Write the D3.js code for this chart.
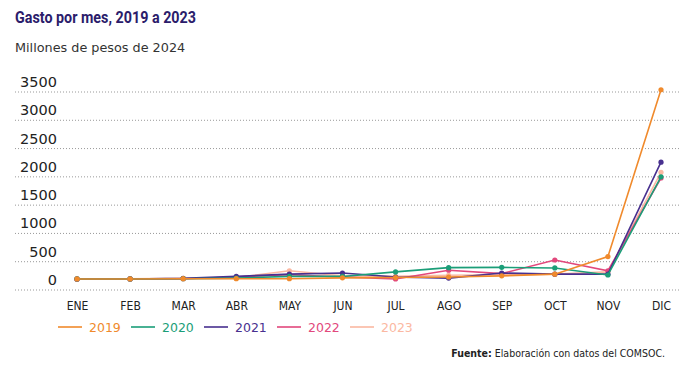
<!DOCTYPE html>
<html>
<head>
<meta charset="utf-8">
<script src="https://cdn.jsdelivr.net/npm/d3@7"></script>
<style>
  body { margin: 0; background: #fff; }
  svg { display: block; }
</style>
</head>
<body>
<div id="chart"></div>
<script>
// Data
var months = ["ENE", "FEB", "MAR", "ABR", "MAY", "JUN", "JUL", "AGO", "SEP", "OCT", "NOV", "DIC"];
var years = ["2019", "2020", "2021", "2022", "2023"];
var gasto2019 = [195, 195, 200, 200, 200, 215, 220, 230, 250, 280, 590, 3540];
var gasto2020 = [195, 195, 200, 210, 240, 240, 320, 395, 400, 390, 265, 2000];
var gasto2021 = [195, 195, 205, 240, 280, 300, 230, 210, 300, 280, 280, 2260];
var gasto2022 = [190, 195, 200, 230, 270, 230, 195, 350, 290, 530, 340, 1980];
var gasto2023 = [195, 200, 205, 220, 340, 250, 240, 260, 270, 280, 320, 2080];
var yTicks = [0, 500, 1000, 1500, 2000, 2500, 3000, 3500];

var colors = {
    "2019": "#f08a2c",
    "2020": "#1b9e78",
    "2021": "#48308f",
    "2022": "#e2487c",
    "2023": "#fbb8a2"
};

var series = [
    { year: "2019", values: gasto2019 },
    { year: "2020", values: gasto2020 },
    { year: "2021", values: gasto2021 },
    { year: "2022", values: gasto2022 },
    { year: "2023", values: gasto2023 }
];

var width = 700, height = 378;

var svg = d3.select("#chart")
    .append("svg")
    .attr("width", width)
    .attr("height", height);

// Title and subtitle
svg.append("text")
    .attr("x", 15).attr("y", 23)
    .attr("textLength", 181)
    .attr("lengthAdjust", "spacingAndGlyphs")
    .style("font-family", "Roboto, sans-serif")
    .style("font-weight", "bold")
    .style("font-size", "17px")
    .style("fill", "#2b1c6b")
    .text("Gasto por mes, 2019 a 2023");

svg.append("text")
    .attr("x", 15).attr("y", 52)
    .style("font-family", "'DejaVu Sans', sans-serif")
    .style("font-size", "12.8px")
    .style("fill", "#333")
    .text("Millones de pesos de 2024");

var x = d3.scalePoint()
    .domain(months)
    .range([77, 661]);

var y = d3.scaleLinear()
    .domain([0, 3500])
    .range([290, 92]);

// Gridlines with labels sitting above them
var grid = svg.append("g").attr("class", "grid");
grid.selectAll("line")
    .data(yTicks)
    .enter().append("line")
    .attr("x1", 15).attr("x2", 680)
    .attr("y1", d => y(d)).attr("y2", d => y(d))
    .attr("stroke", "#999")
    .attr("stroke-width", 1)
    .attr("stroke-dasharray", "1,2");

grid.selectAll("text")
    .data(yTicks)
    .enter().append("text")
    .attr("x", 57)
    .attr("y", d => y(d) - 5)
    .attr("text-anchor", "end")
    .style("font-family", "'DejaVu Sans', sans-serif")
    .style("font-size", "14.5px")
    .style("fill", "#222")
    .text(d => d);

// X axis labels
var xAxis = d3.axisBottom(x).tickSize(0).tickPadding(0);
var gx = svg.append("g")
    .attr("transform", "translate(0,301)")
    .call(xAxis);
gx.select(".domain").remove();
gx.selectAll("text")
    .style("font-family", "'DejaVu Sans Condensed', 'DejaVu Sans', sans-serif")
    .style("font-size", "12px")
    .style("fill", "#222");

// Lines
var line = d3.line()
    .x((d, i) => x(months[i]))
    .y(d => y(d));

var drawOrder = series.slice().reverse();
var g = svg.append("g");
drawOrder.forEach(function(s) {
    g.append("path")
        .datum(s.values)
        .attr("d", line)
        .attr("fill", "none")
        .attr("stroke", colors[s.year])
        .attr("stroke-width", 1.6);
    g.selectAll(".pt" + s.year)
        .data(s.values)
        .enter().append("circle")
        .attr("class", "pt" + s.year)
        .attr("cx", (d, i) => x(months[i]))
        .attr("cy", d => y(d))
        .attr("r", 2.6)
        .attr("fill", colors[s.year]);
});

// Legend
var legendX = [58, 131, 204, 277, 350];
var legend = svg.append("g").attr("transform", "translate(0,327)");
years.forEach(function(yr, i) {
    legend.append("line")
        .attr("x1", legendX[i]).attr("x2", legendX[i] + 24)
        .attr("y1", 0).attr("y2", 0)
        .attr("stroke", colors[yr])
        .attr("stroke-width", 1.6);
    legend.append("text")
        .attr("x", legendX[i] + 31)
        .attr("y", 4.5)
        .style("font-family", "'DejaVu Sans', sans-serif")
        .style("font-size", "12.5px")
        .style("fill", colors[yr])
        .text(yr);
});

// Source note
var src = svg.append("text")
    .attr("x", 665).attr("y", 357)
    .attr("text-anchor", "end")
    .style("font-family", "'DejaVu Sans Condensed', 'DejaVu Sans', sans-serif")
    .style("font-size", "10.5px")
    .style("fill", "#222");
src.append("tspan").style("font-weight", "bold").text("Fuente:");
src.append("tspan").text(" Elaboración con datos del COMSOC.");
</script>
</body>
</html>
